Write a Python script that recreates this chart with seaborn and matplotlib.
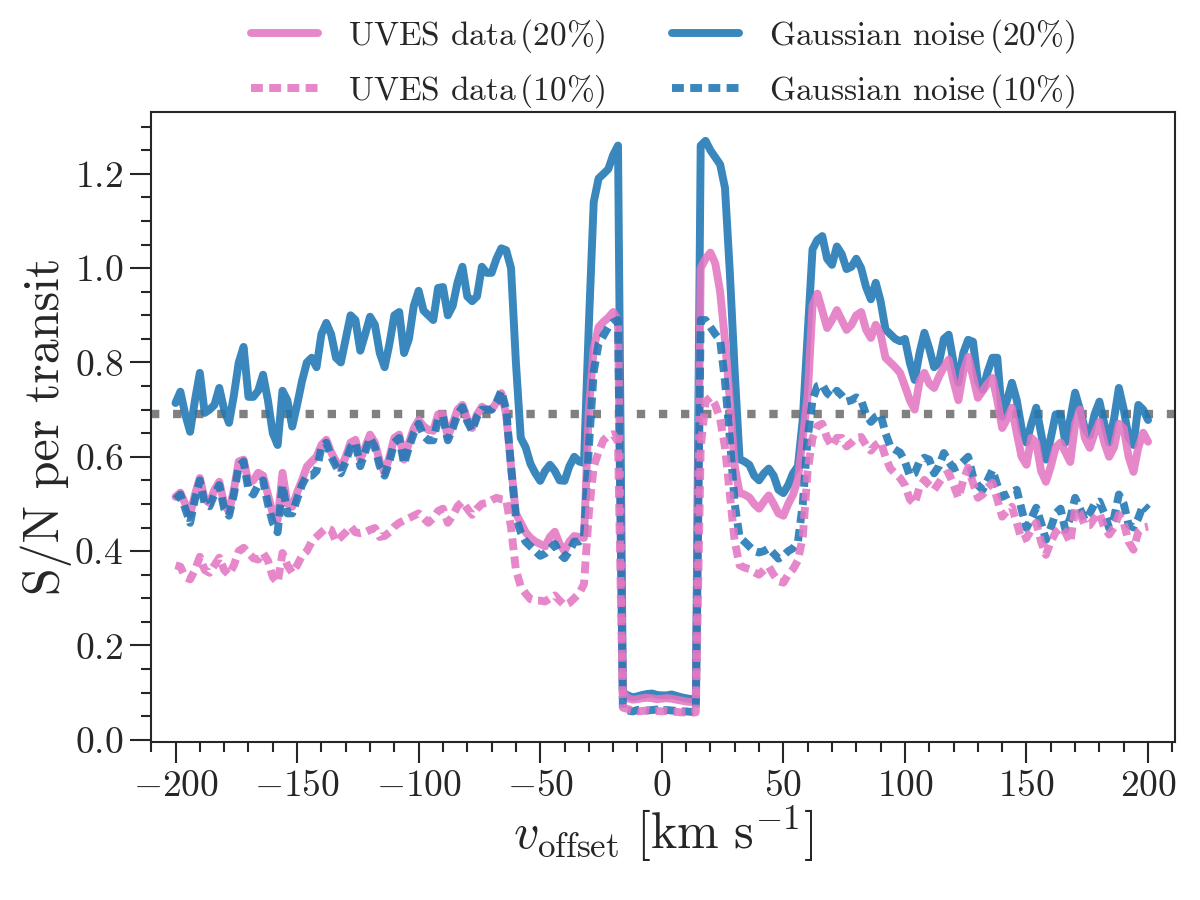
import numpy as np
import pandas as pd
import seaborn as sns
import matplotlib.pyplot as plt
from matplotlib.ticker import MultipleLocator

# velocity grid (km/s), 2 km/s steps
v_offset = np.arange(-200, 201, 2)

# Gaussian noise, 20%
gauss_20 = [
    0.714, 0.738, 0.69, 0.653, 0.72, 0.778, 0.693, 0.70, 0.71, 0.746,
    0.70, 0.672, 0.73, 0.80, 0.833, 0.727, 0.727, 0.74, 0.774, 0.72,
    0.65, 0.625, 0.74, 0.72, 0.664, 0.71, 0.76, 0.80, 0.81, 0.79,
    0.86, 0.884, 0.86, 0.81, 0.80, 0.85, 0.90, 0.89, 0.825, 0.86,
    0.897, 0.88, 0.82, 0.79, 0.84, 0.90, 0.907, 0.82, 0.85, 0.92,
    0.952, 0.91, 0.90, 0.89, 0.958, 0.96, 0.90, 0.92, 0.97, 1.003,
    0.94, 0.93, 0.94, 1.003, 0.99, 0.99, 1.02, 1.042, 1.038, 1.0,
    0.80, 0.64, 0.62, 0.585, 0.565, 0.549, 0.57, 0.583, 0.57, 0.55,
    0.549, 0.58, 0.60, 0.59, 0.587, 0.88, 1.14, 1.19, 1.20, 1.21,
    1.24, 1.26, 0.10, 0.094, 0.09, 0.092, 0.095, 0.097, 0.098, 0.095,
    0.094, 0.094, 0.096, 0.093, 0.09, 0.088, 0.086, 0.085, 1.26, 1.27,
    1.25, 1.235, 1.22, 1.17, 0.99, 0.78, 0.595, 0.59, 0.583, 0.56,
    0.55, 0.565, 0.575, 0.56, 0.53, 0.523, 0.54, 0.565, 0.58, 0.68,
    0.86, 1.04, 1.06, 1.068, 1.02, 1.007, 1.046, 1.03, 0.998, 1.003,
    1.02, 1.00, 0.96, 0.934, 0.969, 0.93, 0.87, 0.86, 0.85, 0.845,
    0.85, 0.80, 0.763, 0.82, 0.863, 0.83, 0.79, 0.80, 0.85, 0.859,
    0.80, 0.757, 0.82, 0.848, 0.844, 0.76, 0.742, 0.78, 0.81, 0.81,
    0.685, 0.72, 0.757, 0.72, 0.66, 0.63, 0.67, 0.704, 0.65, 0.594,
    0.64, 0.69, 0.69, 0.63, 0.68, 0.736, 0.70, 0.66, 0.645, 0.69,
    0.717, 0.67, 0.63, 0.68, 0.746, 0.70, 0.64, 0.625, 0.71, 0.70,
    0.678,
]

# UVES data, 20%
uves_20 = [
    0.515, 0.524, 0.50, 0.477, 0.52, 0.555, 0.51, 0.502, 0.53, 0.547,
    0.50, 0.483, 0.53, 0.59, 0.594, 0.545, 0.55, 0.566, 0.56, 0.52,
    0.48, 0.466, 0.566, 0.50, 0.494, 0.524, 0.55, 0.579, 0.59, 0.60,
    0.625, 0.636, 0.61, 0.59, 0.577, 0.60, 0.63, 0.636, 0.594, 0.62,
    0.647, 0.63, 0.59, 0.566, 0.60, 0.64, 0.647, 0.594, 0.63, 0.66,
    0.678, 0.665, 0.657, 0.655, 0.69, 0.69, 0.642, 0.67, 0.70, 0.71,
    0.68, 0.661, 0.69, 0.706, 0.70, 0.70, 0.715, 0.735, 0.69, 0.58,
    0.48, 0.46, 0.44, 0.428, 0.42, 0.415, 0.41, 0.43, 0.441, 0.415,
    0.40, 0.42, 0.432, 0.43, 0.428, 0.70, 0.83, 0.875, 0.886, 0.895,
    0.907, 0.89, 0.10, 0.088, 0.085, 0.086, 0.088, 0.089, 0.088, 0.086,
    0.087, 0.088, 0.087, 0.085, 0.083, 0.081, 0.08, 0.08, 1.0, 1.02,
    1.033, 1.01, 0.95, 0.847, 0.72, 0.58, 0.523, 0.52, 0.514, 0.50,
    0.49, 0.505, 0.518, 0.50, 0.48, 0.475, 0.50, 0.52, 0.553, 0.64,
    0.73, 0.92, 0.946, 0.91, 0.873, 0.89, 0.911, 0.89, 0.869, 0.88,
    0.90, 0.907, 0.87, 0.852, 0.88, 0.86, 0.81, 0.80, 0.79, 0.778,
    0.75, 0.72, 0.70, 0.76, 0.778, 0.755, 0.746, 0.77, 0.79, 0.806,
    0.76, 0.72, 0.78, 0.812, 0.77, 0.725, 0.74, 0.755, 0.767, 0.72,
    0.661, 0.68, 0.704, 0.65, 0.60, 0.583, 0.64, 0.63, 0.57, 0.547,
    0.58, 0.62, 0.63, 0.61, 0.589, 0.67, 0.70, 0.64, 0.619, 0.65,
    0.674, 0.63, 0.60, 0.62, 0.67, 0.66, 0.60, 0.568, 0.62, 0.651,
    0.632,
]

# Gaussian noise, 10%
gauss_10 = [
    0.51, 0.52, 0.49, 0.46, 0.51, 0.55, 0.50, 0.495, 0.52, 0.54,
    0.49, 0.475, 0.52, 0.58, 0.59, 0.53, 0.52, 0.54, 0.55, 0.50,
    0.46, 0.44, 0.54, 0.48, 0.48, 0.51, 0.54, 0.56, 0.56, 0.57,
    0.62, 0.63, 0.60, 0.58, 0.565, 0.59, 0.62, 0.63, 0.58, 0.61,
    0.64, 0.62, 0.58, 0.56, 0.59, 0.63, 0.64, 0.585, 0.62, 0.65,
    0.67, 0.645, 0.635, 0.635, 0.68, 0.685, 0.635, 0.66, 0.69, 0.705,
    0.675, 0.655, 0.685, 0.70, 0.70, 0.70, 0.715, 0.74, 0.70, 0.58,
    0.47, 0.44, 0.42, 0.41, 0.40, 0.39, 0.395, 0.405, 0.415, 0.395,
    0.385, 0.40, 0.42, 0.42, 0.43, 0.62, 0.78, 0.84, 0.857, 0.875,
    0.885, 0.89, 0.065, 0.062, 0.06, 0.063, 0.064, 0.062, 0.063, 0.064,
    0.062, 0.063, 0.062, 0.061, 0.06, 0.06, 0.059, 0.06, 0.89, 0.89,
    0.875, 0.86, 0.847, 0.76, 0.64, 0.50, 0.43, 0.42, 0.41, 0.40,
    0.397, 0.40, 0.406, 0.395, 0.384, 0.39, 0.40, 0.406, 0.42, 0.50,
    0.64, 0.72, 0.75, 0.753, 0.735, 0.727, 0.74, 0.73, 0.717, 0.72,
    0.726, 0.72, 0.69, 0.674, 0.685, 0.69, 0.65, 0.622, 0.615, 0.609,
    0.59, 0.56, 0.565, 0.59, 0.598, 0.594, 0.565, 0.58, 0.608, 0.59,
    0.575, 0.58, 0.59, 0.60, 0.558, 0.54, 0.53, 0.55, 0.572, 0.54,
    0.515, 0.52, 0.525, 0.53, 0.488, 0.449, 0.47, 0.492, 0.46, 0.424,
    0.45, 0.48, 0.49, 0.445, 0.47, 0.513, 0.49, 0.466, 0.48, 0.50,
    0.505, 0.48, 0.449, 0.47, 0.52, 0.50, 0.456, 0.45, 0.47, 0.498,
    0.488,
]

# UVES data, 10%
uves_10 = [
    0.37, 0.367, 0.345, 0.34, 0.36, 0.388, 0.36, 0.354, 0.37, 0.386,
    0.36, 0.35, 0.37, 0.40, 0.407, 0.396, 0.385, 0.382, 0.396, 0.38,
    0.345, 0.333, 0.396, 0.37, 0.354, 0.37, 0.39, 0.40, 0.42, 0.43,
    0.44, 0.449, 0.445, 0.42, 0.43, 0.44, 0.452, 0.44, 0.438, 0.44,
    0.445, 0.449, 0.43, 0.432, 0.44, 0.452, 0.46, 0.465, 0.47, 0.475,
    0.48, 0.47, 0.46, 0.47, 0.485, 0.49, 0.46, 0.475, 0.495, 0.505,
    0.49, 0.477, 0.49, 0.50, 0.502, 0.508, 0.513, 0.51, 0.509, 0.45,
    0.36, 0.325, 0.31, 0.298, 0.295, 0.295, 0.293, 0.30, 0.306, 0.295,
    0.285, 0.29, 0.30, 0.31, 0.33, 0.48, 0.579, 0.61, 0.635, 0.645,
    0.648, 0.632, 0.068, 0.065, 0.062, 0.06, 0.061, 0.062, 0.06, 0.061,
    0.06, 0.061, 0.06, 0.059, 0.058, 0.058, 0.057, 0.058, 0.62, 0.717,
    0.726, 0.71, 0.68, 0.62, 0.52, 0.42, 0.37, 0.365, 0.362, 0.355,
    0.35, 0.36, 0.367, 0.35, 0.336, 0.333, 0.35, 0.362, 0.38, 0.43,
    0.57, 0.64, 0.665, 0.67, 0.64, 0.622, 0.64, 0.64, 0.622, 0.63,
    0.64, 0.642, 0.625, 0.613, 0.625, 0.632, 0.60, 0.575, 0.565, 0.555,
    0.54, 0.51, 0.50, 0.535, 0.551, 0.54, 0.53, 0.545, 0.56, 0.566,
    0.54, 0.513, 0.55, 0.577, 0.545, 0.513, 0.52, 0.535, 0.545, 0.51,
    0.473, 0.485, 0.494, 0.46, 0.424, 0.428, 0.445, 0.46, 0.42, 0.392,
    0.42, 0.44, 0.45, 0.44, 0.418, 0.49, 0.48, 0.455, 0.455, 0.47,
    0.481, 0.45, 0.435, 0.45, 0.477, 0.46, 0.42, 0.403, 0.441, 0.45,
    0.452,
]

threshold = 0.69

# legend order (column-wise): UVES 20/10, Gaussian 20/10
labels = ['UVES data$\\,$(20%)', 'UVES data$\\,$(10%)',
          'Gaussian noise$\\,$(20%)', 'Gaussian noise$\\,$(10%)']
series = [uves_20, uves_10, gauss_20, gauss_10]
colors = ['tab:pink', 'tab:pink', 'tab:blue', 'tab:blue']
dashed = [False, True, False, True]
zorders = [3, 5, 2, 4]

sns.set_style('ticks')
plt.rcParams['font.family'] = 'serif'
plt.rcParams['font.serif'] = ['cmr10', 'DejaVu Serif']
plt.rcParams['mathtext.fontset'] = 'cm'
plt.rcParams['axes.formatter.use_mathtext'] = True
plt.rcParams['axes.unicode_minus'] = True

df = pd.DataFrame({'v': np.tile(v_offset, 4),
                   'sn': np.concatenate(series),
                   'label': np.repeat(labels, len(v_offset))})

fig = plt.figure(figsize=(8, 6), dpi=150)
ax = fig.add_axes([0.126, 0.176, 0.853, 0.700])

for lab, col, d, z in zip(labels, colors, dashed, zorders):
    sub = df[df['label'] == lab]
    sns.lineplot(data=sub, x='v', y='sn', color=col, lw=3.8, alpha=0.88,
                 ax=ax, label=lab, zorder=z)
    if d:
        ax.lines[-1].set_dashes((1.5, 0.8))

ax.axhline(threshold, color='gray', ls=':', lw=4, zorder=1)

ax.set_xlim(-210, 211)
ax.set_ylim(-0.004, 1.332)
ax.xaxis.set_major_locator(MultipleLocator(50))
ax.xaxis.set_minor_locator(MultipleLocator(10))
ax.yaxis.set_major_locator(MultipleLocator(0.2))
ax.yaxis.set_minor_locator(MultipleLocator(0.05))
ax.tick_params(which='major', length=10, width=1, labelsize=18)
ax.tick_params(which='minor', length=5, width=1)
for s in ax.spines.values():
    s.set_linewidth(1)

ax.set_xlabel(r'$v_{\rm offset}\ [\rm km\ s^{-1}]$', fontsize=24, labelpad=0)
ax.set_ylabel('S/N per transit', fontsize=24, labelpad=1)

handles, labs = ax.get_legend_handles_labels()
for h, d in zip(handles, dashed):
    if d:
        h.set_dashes((1.5, 0.8))
ax.legend(handles, labs, loc='lower center', bbox_to_anchor=(0.5, 0.955),
          ncol=2, frameon=False, fontsize=16, columnspacing=2.0,
          handletextpad=0.9)

fig.savefig('out.png', dpi=150)
